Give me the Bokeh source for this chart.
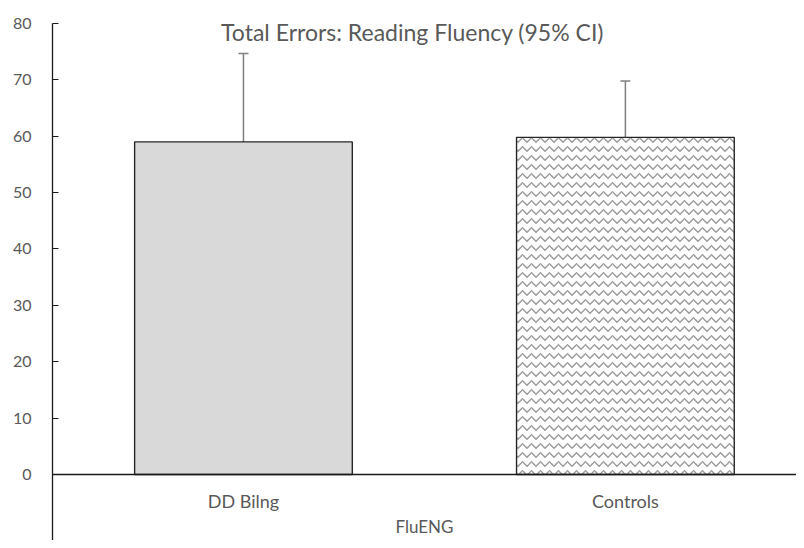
from bokeh.plotting import figure
from bokeh.models import Range1d, FixedTicker, Whisker, ColumnDataSource, Label
from bokeh.embed import file_html
from bokeh.resources import INLINE

categories = ["DD Bilng", "Controls"]
means = [59.0, 59.8]
ci_lower = [43.0, 50.0]
ci_upper = [74.7, 69.8]
fills = ["#d9d9d9", "#ffffff"]
hatches = [" ", "horizontal_wave"]
y_ticks = [0, 10, 20, 30, 40, 50, 60, 70, 80]

xs = [i + 0.5 for i in range(len(categories))]
src = ColumnDataSource(dict(x=xs, top=means, lower=ci_lower, upper=ci_upper,
                            fill=fills, hatch=hatches))

p = figure(width=796, height=540, output_backend="svg", toolbar_location=None,
           x_range=Range1d(0, 1.948), y_range=Range1d(-11.71, 80),
           min_border_top=23, min_border_bottom=0, min_border_right=0, min_border_left=52)
p.outline_line_color = None
p.grid.visible = False
p.background_fill_color = "white"

p.vbar(x="x", top="top", bottom=0, width=0.57, source=src,
       fill_color="fill", line_color="#262626", line_width=1.4,
       hatch_pattern="hatch", hatch_color="#9a9a9a", hatch_scale=9, hatch_weight=1.4)

w = Whisker(base="x", lower="lower", upper="upper", source=src,
            line_color="#7f7f7f", line_width=1.5)
for head in (w.upper_head, w.lower_head):
    head.size = 10
    head.line_color = "#7f7f7f"
    head.line_width = 1.5
p.add_layout(w)

font = "Lato"
p.yaxis.ticker = FixedTicker(ticks=y_ticks)
p.yaxis.major_tick_in = 6
p.yaxis.major_tick_out = 0
p.yaxis.minor_tick_line_color = None
p.yaxis.axis_line_color = "#1a1a1a"
p.yaxis.axis_line_width = 1.3
p.yaxis.major_tick_line_color = "#1a1a1a"
p.yaxis.major_label_text_color = "#595959"
p.yaxis.major_label_text_font = font
p.yaxis.major_label_text_font_size = "16px"
p.yaxis.major_label_standoff = 21

p.xaxis.fixed_location = 0
p.xaxis.ticker = FixedTicker(ticks=xs)
p.xaxis.major_label_overrides = {x: c for x, c in zip(xs, categories)}
p.xaxis.major_tick_line_color = None
p.xaxis.minor_tick_line_color = None
p.xaxis.axis_line_color = "#1a1a1a"
p.xaxis.axis_line_width = 1.3
p.xaxis.major_label_text_color = "#595959"
p.xaxis.major_label_text_font = font
p.xaxis.major_label_text_font_size = "18px"
p.xaxis.major_label_standoff = 10
p.xaxis.axis_label = "FluENG"
p.xaxis.axis_label_text_color = "#595959"
p.xaxis.axis_label_text_font = font
p.xaxis.axis_label_text_font_size = "17px"
p.xaxis.axis_label_text_font_style = "normal"
p.xaxis.axis_label_standoff = 0

title = Label(x=363, y=509, x_units="screen", y_units="screen",
              text="Total Errors: Reading Fluency  (95% CI)",
              text_font=font, text_font_size="23px", text_color="#595959",
              text_align="center", text_baseline="middle")
p.add_layout(title)

open("out.html", "w").write(file_html(p, INLINE))
